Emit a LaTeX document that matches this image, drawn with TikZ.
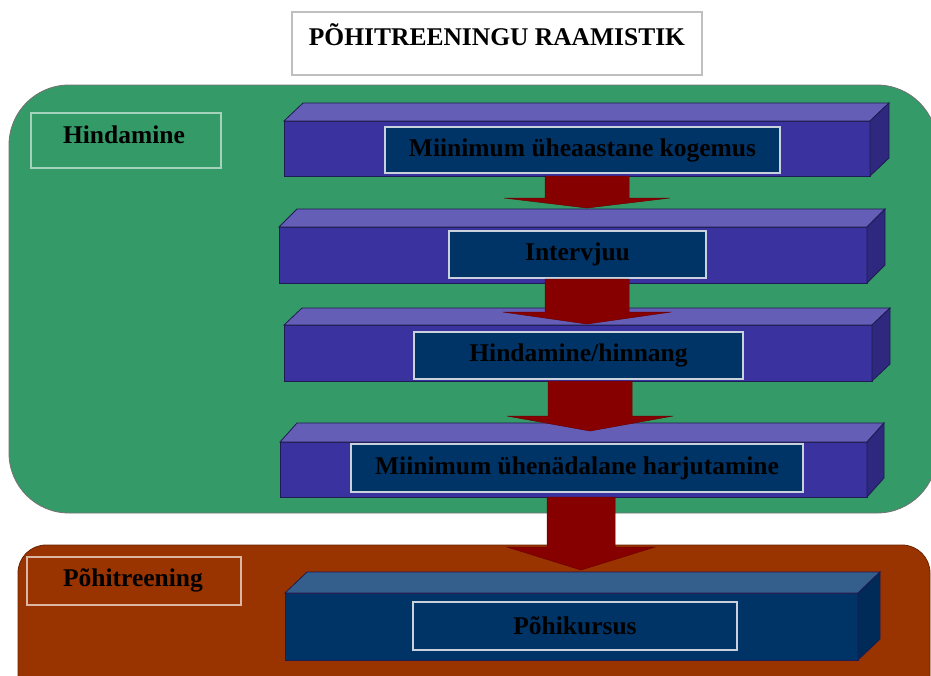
\documentclass[tikz,border=0pt]{standalone}
\usepackage{fontspec}
\setmainfont{Liberation Serif}
\usetikzlibrary{calc}
\definecolor{grn}{RGB}{52,154,104}
\definecolor{brn}{RGB}{153,51,0}
\definecolor{pfront}{RGB}{58,50,158}
\definecolor{ptop}{RGB}{100,94,182}
\definecolor{pside}{RGB}{46,40,126}
\definecolor{navy}{RGB}{0,51,102}
\definecolor{btop}{RGB}{52,94,140}
\definecolor{bside}{RGB}{0,42,88}
\definecolor{arr}{RGB}{135,0,0}
\definecolor{edge}{RGB}{30,28,80}
\newcommand\cuboid[7]{% name, front, top, side, dx, dy, (unused)
  \fill[#3,draw=edge,line width=0.8pt] (#1.north west) -- ++(#5,-#6) -- ($(#1.north east)+(#5,-#6)$) -- (#1.north east) -- cycle;
  \fill[#4,draw=edge,line width=0.8pt] (#1.north east) -- ++(#5,-#6) -- ($(#1.south east)+(#5,-#6)$) -- (#1.south east) -- cycle;
}
\newcommand\blockarrow[5]{% start, tip, shaft half, head half, head length
  \fill[arr,draw=arr!80!black,line width=0.5pt] ($(#1)+(-#3,0)$) -- ($(#2)+(-#3,-#5)$) -- ($(#2)+(-#4,-#5)$) -- (#2) -- ($(#2)+(#4,-#5)$) -- ($(#2)+(#3,-#5)$) -- ($(#1)+(#3,0)$) -- cycle;
}
\begin{document}
\begin{tikzpicture}[x=1pt,y=-1pt,
  txt/.style={font=\fontsize{25.5}{30}\selectfont\bfseries, text=black, inner sep=0pt},
  front/.style={draw=edge, line width=0.8pt, inner sep=0pt, outer sep=0pt, anchor=north west},
  inner/.style={draw=white!78!navy, line width=1.3pt, fill=navy, inner sep=0pt,
    font=\fontsize{25.5}{30}\selectfont\bfseries, text=black},
  labelbox/.style={line width=1.3pt, inner sep=0pt}
]
\useasboundingbox (0,0) rectangle (931,675);
\clip (0,0) rectangle (931,675);
\fill[white] (0,0) rectangle (931,675);

% title
\node[labelbox, draw=black!25, minimum width=410pt, minimum height=63pt] (titlebox) at (497,43.5) {};
\node[txt] (title) at (497,35) {PÕHITREENINGU RAAMISTIK};

% green panel
\draw[fill=grn, draw=black!55, line width=0.8pt, rounded corners=60pt] (9,85) rectangle (937,513);
\node[labelbox, draw=white!55!grn, minimum width=190pt, minimum height=55pt] (hbox) at (126,140.5) {};
\node[txt] (htext) at (124,135) {Hindamine};

% bars 1-4
\node[front, fill=pfront, minimum width=586pt, minimum height=55pt] (b1) at (284,121) {};
\cuboid{b1}{pfront}{ptop}{pside}{19}{18}{}
\node[inner, minimum width=395pt, minimum height=46pt] (i1) at (582.5,150) {Miinimum üheaastane kogemus};

\node[front, fill=pfront, minimum width=588pt, minimum height=56pt] (b2) at (279,227) {};
\cuboid{b2}{pfront}{ptop}{pside}{18}{18}{}
\node[inner, minimum width=257pt, minimum height=47pt] (i2) at (577.5,254.5) {Intervjuu};

\node[front, fill=pfront, minimum width=588pt, minimum height=56pt] (b3) at (284,325) {};
\cuboid{b3}{pfront}{ptop}{pside}{18}{17}{}
\node[inner, minimum width=329pt, minimum height=47pt] (i3) at (578.5,355.5) {Hindamine/hinnang};

\node[front, fill=pfront, minimum width=587pt, minimum height=55pt] (b4) at (280,442) {};
\cuboid{b4}{pfront}{ptop}{pside}{17}{19}{}
\node[inner, minimum width=452pt, minimum height=48pt] (i4) at (577,468) {Miinimum ühenädalane harjutamine};

% arrows between bars
\coordinate (a1s) at (587,176); \coordinate (a1t) at (587,208);
\coordinate (a2s) at (587,279); \coordinate (a2t) at (587,324);
\coordinate (a3s) at (590,381); \coordinate (a3t) at (590,431);
\blockarrow{a1s}{a1t}{42}{83}{10}
\blockarrow{a2s}{a2t}{42}{84}{12}
\blockarrow{a3s}{a3t}{42}{83}{15}

% brown panel
\draw[fill=brn, draw=brn!70!black, line width=0.8pt, rounded corners=28pt] (18,545) rectangle (930,705);
\node[labelbox, draw=white!65!brn, minimum width=214pt, minimum height=48pt] (pbox) at (134,581) {};
\node[txt] (ptext) at (133,580) {Põhitreening};

\node[front, fill=navy, minimum width=573pt, minimum height=67pt] (b5) at (285,593) {};
\cuboid{b5}{navy}{btop}{bside}{22}{21}{}
\node[inner, minimum width=324pt, minimum height=48pt] (i5) at (575,626) {Põhikursus};

\coordinate (a4s) at (581,497); \coordinate (a4t) at (581,570);
\blockarrow{a4s}{a4t}{34}{74}{23}
\end{tikzpicture}
\end{document}
